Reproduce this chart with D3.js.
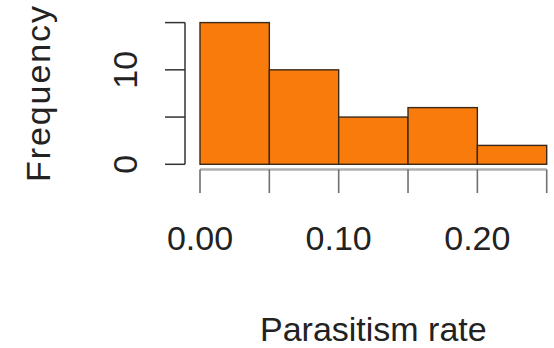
<!DOCTYPE html>
<html>
<head>
<meta charset="utf-8">
<script src="https://cdn.jsdelivr.net/npm/d3@7"></script>
<style>
  body { margin: 0; background: #fff; }
  text { font-family: "Liberation Sans", Arial, sans-serif; fill: #222; }
</style>
</head>
<body>
<div id="chart"></div>
<script>
// histogram data: bin edges and counts
var binEdges = [0, 0.05, 0.10, 0.15, 0.20, 0.25];
var counts = [15, 10, 5, 6, 2];
var xTickValues = [0, 0.05, 0.10, 0.15, 0.20, 0.25];
var xTickLabels = [0, 0.10, 0.20];
var yTickValues = [0, 5, 10, 15];
var yTickLabels = [0, 10];

var width = 554;
var height = 348;
var margin = ({ top: 22.6, right: 7.3, bottom: 183.7, left: 200 });

var bins = counts.map((c, i) => ({ x0: binEdges[i], x1: binEdges[i + 1], n: c }));

var svg = d3.select("#chart").append("svg")
  .attr("width", width)
  .attr("height", height);

var xScale = d3.scaleLinear()
  .domain([0, 0.25])
  .range([margin.left, width - margin.right]);

var yScale = d3.scaleLinear()
  .domain([0, 15])
  .range([height - margin.bottom, margin.top]);

var fontSize = 34;

// bars
svg.append("g")
  .selectAll("rect")
  .data(bins)
  .join("rect")
  .attr("x", d => xScale(d.x0))
  .attr("y", d => yScale(d.n))
  .attr("width", d => xScale(d.x1) - xScale(d.x0))
  .attr("height", d => yScale(0) - yScale(d.n))
  .attr("fill", "#f97b0b")
  .attr("stroke", "#3a2a1a")
  .attr("stroke-width", 1.4);

// x axis (gray, offset below bars)
var xAxisY = 169.5;
var xg = svg.append("g");
xg.append("line")
  .attr("x1", xScale(0)).attr("x2", xScale(0.25))
  .attr("y1", xAxisY).attr("y2", xAxisY)
  .attr("stroke", "#b0b0b0").attr("stroke-width", 2.5);
xg.selectAll("line.tick")
  .data(xTickValues)
  .join("line")
  .attr("class", "tick")
  .attr("x1", d => xScale(d)).attr("x2", d => xScale(d))
  .attr("y1", xAxisY).attr("y2", 193)
  .attr("stroke", "#707070").attr("stroke-width", 1.6);
xg.selectAll("text")
  .data(xTickLabels)
  .join("text")
  .attr("x", d => xScale(d))
  .attr("y", 250)
  .attr("text-anchor", "middle")
  .attr("font-size", fontSize)
  .text(d => d3.format(".2f")(d));

// y axis
var yAxisX = 185;
var yg = svg.append("g");
yg.append("line")
  .attr("x1", yAxisX).attr("x2", yAxisX)
  .attr("y1", yScale(0)).attr("y2", yScale(15))
  .attr("stroke", "#333").attr("stroke-width", 1.5);
yg.selectAll("line.tick")
  .data(yTickValues)
  .join("line")
  .attr("class", "tick")
  .attr("x1", yAxisX - 20).attr("x2", yAxisX)
  .attr("y1", d => yScale(d)).attr("y2", d => yScale(d))
  .attr("stroke", "#333").attr("stroke-width", 1.5);
yg.selectAll("text")
  .data(yTickLabels)
  .join("text")
  .attr("transform", d => "translate(137," + yScale(d) + ") rotate(-90)")
  .attr("text-anchor", "middle")
  .attr("font-size", fontSize)
  .text(d => d);

// axis titles
svg.append("text")
  .attr("x", (xScale(0) + xScale(0.25)) / 2)
  .attr("y", 340.5)
  .attr("text-anchor", "middle")
  .attr("font-size", fontSize)
  .text("Parasitism rate");

svg.append("text")
  .attr("transform", "translate(50,94) rotate(-90)")
  .attr("text-anchor", "middle")
  .attr("font-size", fontSize)
  .attr("textLength", 176)
  .attr("lengthAdjust", "spacing")
  .text("Frequency");
</script>
</body>
</html>
